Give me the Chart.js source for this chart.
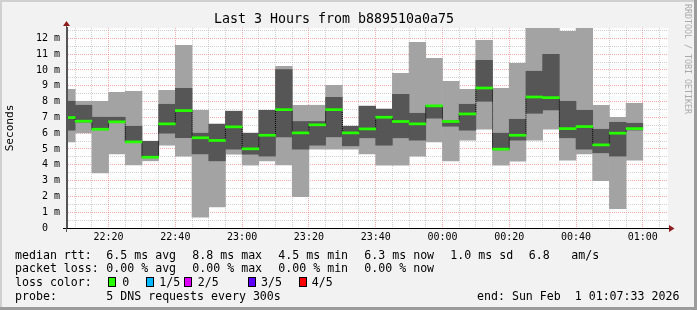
<!DOCTYPE html>
<html><head><meta charset="utf-8">
<script src="https://cdn.jsdelivr.net/npm/chart.js@4/dist/chart.umd.min.js"></script>
<style>
html,body{margin:0;padding:0;background:#f2f2f2;}
#wrap{position:relative;width:697px;height:310px;overflow:hidden;}
canvas{position:absolute;left:0;top:0;}
.t{position:absolute;font-family:'DejaVu Sans Mono',monospace;font-size:11.6px;line-height:14px;white-space:pre;color:#000;}
.box{position:absolute;width:6px;height:8px;border:1px solid #000;}
.wm{position:absolute;font-family:'DejaVu Sans Mono',monospace;font-size:8.3px;line-height:8px;writing-mode:vertical-rl;color:#aaaaaa;white-space:pre;}
</style></head>
<body><div id="wrap"><canvas id="c" width="697" height="310"></canvas><div id="legend"></div></div>
<script>
// ---- data (5-minute bins, 5 DNS pings each) ----
const binStart = ["22:05","22:10","22:15","22:20","22:25","22:30","22:35","22:40","22:45","22:50",
  "22:55","23:00","23:05","23:10","23:15","23:20","23:25","23:30","23:35","23:40",
  "23:45","23:50","23:55","00:00","00:05","00:10","00:15","00:20","00:25","00:30",
  "00:35","00:40","00:45","00:50","00:55"];
const pingMin    = [5.45,6.02,3.49,4.69,4.00,4.25,5.24,4.55,0.69,1.33, 4.67,3.98,4.25,4.00,1.98,4.99,4.99,4.99,4.69,3.98, 3.98,4.55,5.45,4.25,5.56,6.25,3.98,4.23,5.56,6.25, 4.29,4.69,2.99,1.22,4.29];
const pingQ1     = [6.19,6.70,6.22,6.68,5.42,4.45,6.00,5.71,4.69,4.25, 4.99,4.67,4.55,5.77,4.99,5.24,5.77,5.20,5.71,5.24, 5.71,5.56,6.95,6.44,6.19,8.02,4.95,5.56,7.26,7.47, 5.71,4.99,4.76,4.55,6.20];
const pingMedian = [6.99,6.76,6.25,6.72,5.45,4.48,6.59,7.43,5.71,5.54, 6.40,5.01,5.87,7.49,6.02,6.53,7.49,6.02,6.27,7.01, 6.74,6.59,7.73,6.74,7.22,8.86,4.99,5.87,8.29,8.25, 6.29,6.42,5.26,6.00,6.29];
const pingQ3     = [8.02,7.77,7.01,7.01,6.44,5.49,7.83,8.84,6.00,6.57, 7.39,6.00,7.45,10.02,6.74,6.74,8.27,6.44,7.71,7.52, 8.46,7.26,7.76,6.80,7.83,10.61,6.00,6.88,9.92,10.99, 8.02,7.45,6.25,6.69,6.63];
const pingMax    = [8.78,8.02,8.02,8.59,8.65,5.49,8.72,11.56,7.45,6.57, 7.39,6.00,7.45,10.23,7.77,7.77,9.03,6.44,7.71,7.52, 9.79,11.75,10.74,9.28,8.78,11.87,8.84,10.42,12.8,12.8, 12.44,12.8,7.77,7.01,7.89];
const xTickLabels = ["22:20","22:40","23:00","23:20","23:40","00:00","00:20","00:40","01:00"];
const yTickLabels = ["0  ","1 m","2 m","3 m","4 m","5 m","6 m","7 m","8 m","9 m","10 m","11 m","12 m"];
const lossLabels = ["0","1/5","2/5","3/5","4/5"];
const lossColors = ["#26ff00","#00b8ff","#dd00ff","#5e00ff","#ff0000"];
const rangeStart = "22:07:33", rangeEnd = "01:07:33";
const yMaxValue = 12.66;
const stepMinutes = 5;

function toMin(s){ const p=s.split(':').map(Number); let h=p[0]; if(h<12) h+=24; return (h-22)*60+p[1]+(p[2]||0)/60; }
const xMin = toMin(rangeStart), xMax = toMin(rangeEnd);
const xTickMap = {}; xTickLabels.forEach(l=>{ xTickMap[Math.round(toMin(l))] = l; });
const xTicks = []; for(let v=Math.ceil(xMin/stepMinutes)*stepMinutes; v<xMax; v+=stepMinutes) xTicks.push(v);
const yTicks = []; for(let k=0; k*0.5<yMaxValue; k++) yTicks.push(k*0.5);

const centers = binStart.map(t=>toMin(t)+stepMinutes/2);
const lightData = centers.map((x,i)=>({x, y:[pingMin[i], pingMax[i]]}));
const darkData  = centers.map((x,i)=>({x, y:[pingQ1[i], pingQ3[i]]}));
const medBar    = centers.map((x,i)=>({x, y:[pingMedian[i]-0.065, pingMedian[i]+0.065]}));
const medLine   = centers.map((x,i)=>({x, y:pingMedian[i]}));

const MAJ = 'rgba(235,115,115,0.6)', MIN = 'rgba(150,150,150,0.45)';
const barCommon = {grouped:false, barPercentage:1, categoryPercentage:1, borderWidth:0};

const deco = {
  id:'deco',
  beforeDraw(chart){
    const {ctx, chartArea:a} = chart;
    ctx.save();
    ctx.fillStyle='#f2f2f2'; ctx.fillRect(0,0,chart.width,chart.height);
    ctx.fillStyle='#ffffff'; ctx.fillRect(a.left,a.top,a.right-a.left,a.bottom-a.top);
    ctx.restore();
  },
  afterDraw(chart){
    const {ctx, chartArea:a} = chart;
    ctx.save();
    ctx.strokeStyle='#000'; ctx.lineWidth=1;
    ctx.beginPath(); ctx.moveTo(a.left-4, Math.round(a.bottom)+0.5); ctx.lineTo(a.right+2, Math.round(a.bottom)+0.5); ctx.stroke();
    ctx.strokeStyle='#555';
    ctx.beginPath(); ctx.moveTo(Math.round(a.left)-0.5, a.bottom+4); ctx.lineTo(Math.round(a.left)-0.5, a.top-3); ctx.stroke();
    ctx.fillStyle='#8e1b1b';
    ctx.beginPath(); ctx.moveTo(a.left-0.5, a.top-7); ctx.lineTo(a.left-4, a.top-2); ctx.lineTo(a.left+3, a.top-2); ctx.closePath(); ctx.fill();
    ctx.beginPath(); ctx.moveTo(a.right+6.5, a.bottom+0.5); ctx.lineTo(a.right+1, a.bottom-3); ctx.lineTo(a.right+1, a.bottom+4); ctx.closePath(); ctx.fill();
    ctx.fillStyle='#d0d0d0'; ctx.fillRect(0,0,chart.width,2); ctx.fillRect(0,0,2,chart.height);
    ctx.fillStyle='#9c9c9c'; ctx.fillRect(0,chart.height-3,chart.width,3); ctx.fillRect(chart.width-3,0,3,chart.height);
    ctx.restore();
  }
};

new Chart(document.getElementById('c'), {
  type:'bar',
  data:{datasets:[
    Object.assign({label:'median', data:medBar, backgroundColor:lossColors[0], order:0}, barCommon),
    {type:'line', label:'median step', data:medLine, stepped:'middle', borderColor:'#000', borderWidth:1, borderDash:[1,1], pointRadius:0, fill:false, order:1},
    Object.assign({label:'inner pings', data:darkData, backgroundColor:'#565656', order:2}, barCommon),
    Object.assign({label:'all pings', data:lightData, backgroundColor:'#a3a3a3', order:3}, barCommon)
  ]},
  options:{
    responsive:false, animation:false, devicePixelRatio:1,
    layout:{padding:{left:0,right:29,top:0,bottom:0}},
    plugins:{
      legend:{display:false}, tooltip:{enabled:false},
      title:{display:true, text:'Last 3 Hours from b889510a0a75', color:'#000',
        font:{family:'DejaVu Sans Mono', size:13.3, weight:'normal', lineHeight:1.2}, padding:{top:11.5,bottom:0.5}}
    },
    scales:{
      x:{type:'linear', min:xMin, max:xMax, offset:false,
        afterBuildTicks(s){ s.ticks = xTicks.map(v=>({value:v})); },
        afterFit(s){ s.height = 82; },
        ticks:{autoSkip:false, maxRotation:0, minRotation:0, padding:3, color:'#000',
          font:{family:'DejaVu Sans Mono', size:10}, callback:v=> xTickMap[Math.round(v)] || ''},
        grid:{offset:false, drawTicks:false, lineWidth:1, color:c=> (c.tick && Math.round(c.tick.value)%20===0) ? MAJ : MIN},
        border:{display:true, color:'#000', width:1, dash:[1,1], z:1}
      },
      y:{type:'linear', min:0, max:yMaxValue,
        afterBuildTicks(s){ s.ticks = yTicks.map(v=>({value:v})); },
        afterFit(s){ s.width = 67; },
        ticks:{autoSkip:false, padding:7, color:'#000', font:{family:'DejaVu Sans Mono', size:10},
          callback:v=> Number.isInteger(v) ? yTickLabels[v] : ''},
        grid:{drawTicks:false, lineWidth:1, color:c=> (c.tick && Number.isInteger(c.tick.value)) ? MAJ : MIN},
        border:{display:true, color:'#555', width:1, dash:[1,1], z:1},
        title:{display:true, text:'Seconds', color:'#000', font:{family:'DejaVu Sans Mono', size:11.1}, padding:{top:3.4,bottom:0}}
      }
    }
  },
  plugins:[deco]
});

// ---- legend (real text) ----
const rows = [
  {base:258.5, items:[[15,'median rtt:'],[106.3,'6.5 ms avg'],[192.3,'8.8 ms max'],[278.3,'4.5 ms min'],[364.3,'6.3 ms now'],[450.3,'1.0 ms sd'],[528.7,'6.8'],[571.3,'am/s']]},
  {base:272.3, items:[[15,'packet loss:'],[106.3,'0.00 % avg'],[192.3,'0.00 % max'],[278.3,'0.00 % min'],[364.3,'0.00 % now']]},
  {base:286.3, items:[[15,'loss color:']]},
  {base:300.0, items:[[15,'probe:'],[106.3,'5 DNS requests every 300s'],[477,'end: Sun Feb  1 01:07:33 2026']]}
];
const boxX = [108,145.5,184,247.5,298.5];
const lossTextX = [122.3,159.3,197.7,261,311.7];
lossLabels.forEach((l,i)=> rows[2].items.push([lossTextX[i], l]));
const lg = document.getElementById('legend');
rows.forEach(r=> r.items.forEach(([x,s])=>{
  const d=document.createElement('div'); d.className='t'; d.style.left=x+'px'; d.style.top=(r.base-11)+'px'; d.textContent=s; lg.appendChild(d);
}));
lossColors.forEach((c,i)=>{
  const b=document.createElement('div'); b.className='box'; b.style.left=boxX[i]+'px'; b.style.top='277px'; b.style.background=c; lg.appendChild(b);
});
const wm=document.createElement('div'); wm.className='wm'; wm.style.left='684px'; wm.style.top='4px'; wm.textContent='RRDTOOL / TOBI OETIKER'; lg.appendChild(wm);
</script>
</body></html>
